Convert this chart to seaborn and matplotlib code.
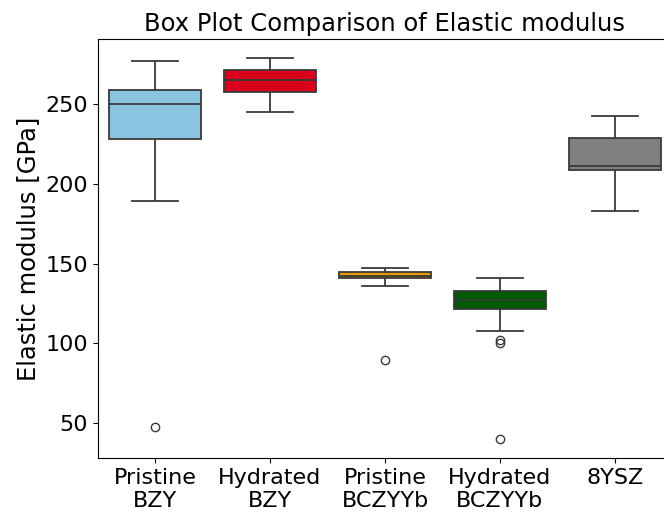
import matplotlib
matplotlib.use("Agg")
import matplotlib.pyplot as plt
import seaborn as sns
import pandas as pd

categories = ["Pristine\nBZY", "Hydrated\nBZY", "Pristine\nBCZYYb", "Hydrated\nBCZYYb", "8YSZ"]

pristine_bzy = [47.4, 189.3, 228.3, 240.0, 250.0, 254.0, 258.7, 268.0, 277.4]
hydrated_bzy = [245.0, 252.0, 258.0, 262.0, 265.0, 268.0, 271.7, 275.0, 279.0]
pristine_bczyyb = [89.6, 136.2, 141.0, 141.8, 142.4, 143.2, 144.5, 146.0, 147.4]
hydrated_bczyyb = [40.0, 100.0, 102.2, 107.7, 121.4, 123.0, 125.0, 126.0, 127.3,
                   129.0, 130.0, 131.5, 132.9, 135.0, 137.0, 139.0, 140.9]
ysz8 = [182.8, 200.0, 208.8, 210.0, 211.0, 220.0, 228.9, 235.0, 242.6]

colors = ["#89C4E1", "#D9001B", "#E69A00", "#005A00", "#808080"]

groups = [pristine_bzy, hydrated_bzy, pristine_bczyyb, hydrated_bczyyb, ysz8]
rows = []
for cat, vals in zip(categories, groups):
    for v in vals:
        rows.append({"Material": cat, "E": v})
df = pd.DataFrame(rows)

fig = plt.figure(figsize=(6.64, 5.15), dpi=100)
ax = fig.add_axes([97.5 / 664, 1 - 458 / 515, 575 / 664, (458 - 39) / 515])

sns.boxplot(data=df, x="Material", y="E", hue="Material", order=categories,
            hue_order=categories, palette=colors, saturation=1, legend=False,
            width=0.8, linecolor="#3a3a3a", linewidth=1.3,
            flierprops=dict(marker="o", markersize=6, markerfacecolor="none",
                            markeredgecolor="#3a3a3a"), ax=ax)

ax.set_xlim(-0.5, 4.5)
ax.set_yticks([50, 100, 150, 200, 250])
ax.set_xlabel("")
ax.set_ylabel("Elastic modulus [GPa]", fontsize=17.5)
ax.set_title("Box Plot Comparison of Elastic modulus", fontsize=17.5)
ax.tick_params(labelsize=16)

fig.savefig("out.png", dpi=100)
